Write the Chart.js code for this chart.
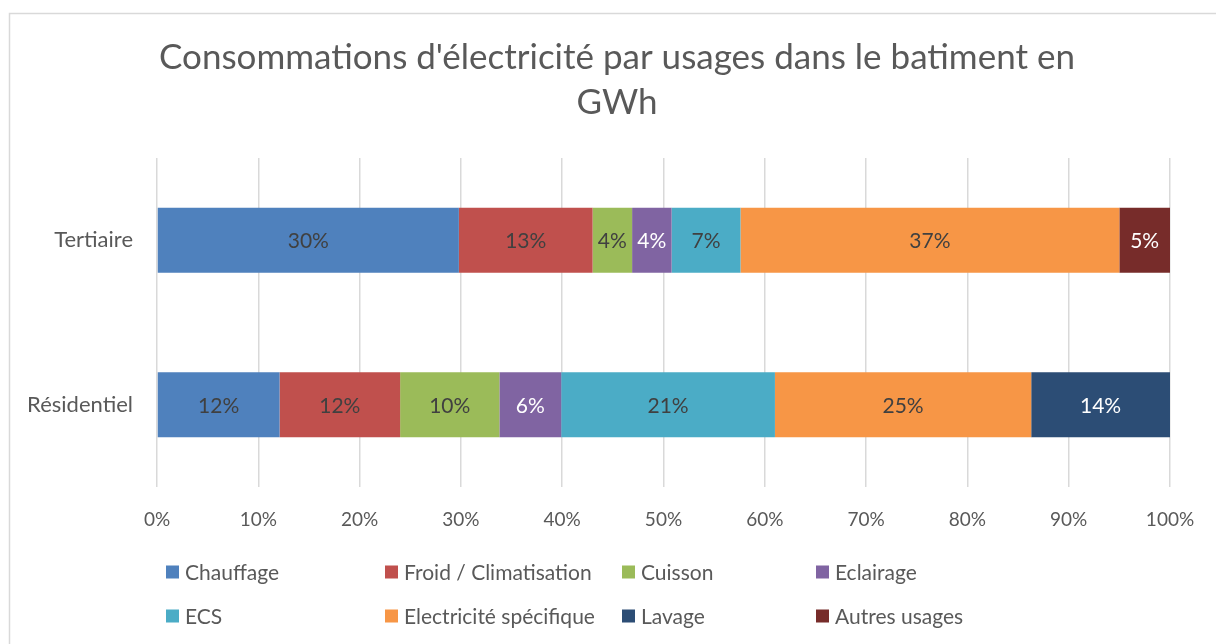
<!DOCTYPE html>
<html>
<head>
<meta charset="utf-8">
<script src="https://cdn.jsdelivr.net/npm/chart.js@4/dist/chart.umd.min.js"></script>
<style>
  html, body { margin: 0; padding: 0; background: #fff; }
  #wrap { width: 1216px; height: 644px; position: relative; }
</style>
</head>
<body>
<div id="wrap"><canvas id="myChart" width="1216" height="644"></canvas></div>
<script>
// categories (top to bottom) and shares in %
var categories = ['Tertiaire', 'Résidentiel'];
var usages = ['Chauffage', 'Froid / Climatisation', 'Cuisson', 'Eclairage',
              'ECS', 'Electricité spécifique', 'Lavage', 'Autres usages'];
var chauffage   = [29.8, 12.1];
var froid       = [13.2, 11.9];
var cuisson     = [3.9, 9.8];
var eclairage   = [3.9, 6.1];
var ecs         = [6.8, 21.1];
var electricite = [37.4, 25.3];
var lavage      = [0, 13.7];
var autres      = [5.0, 0];
var xTicks = [0, 10, 20, 30, 40, 50, 60, 70, 80, 90, 100];
var titleLines = ["Consommations d'électricité par usages dans le batiment en", 'GWh'];

var colors = ['#4F81BD', '#C0504D', '#9BBB59', '#8064A2', '#4BACC6', '#F79646', '#2C4D75', '#772C2A'];
var labelColors = ['#404040', '#404040', '#404040', '#ffffff', '#404040', '#404040', '#ffffff', '#ffffff'];
var series = [chauffage, froid, cuisson, eclairage, ecs, electricite, lavage, autres];

var FONT = 'Lato, "Open Sans", sans-serif';
var GREY = '#595959';

var data = {
  labels: categories,
  datasets: series.map(function (vals, i) {
    return {
      label: usages[i],
      data: vals,
      backgroundColor: colors[i],
      borderWidth: 0,
      barPercentage: 0.79,
      categoryPercentage: 0.5
    };
  })
};

/* frame round the chart area and the title, centred on the whole frame */
var framePlugin = {
  id: 'frame',
  beforeDraw: function (chart) {
    var c = chart.ctx;
    c.save();
    c.strokeStyle = '#d9d9d9';
    c.lineWidth = 1.5;
    c.strokeRect(9.5, 13.5, 1300, 700);
    c.font = '35px ' + FONT;
    c.fillStyle = GREY;
    c.textAlign = 'center';
    c.textBaseline = 'middle';
    titleLines.forEach(function (t, i) {
      c.fillText(t, 617, 58 + i * 45);
    });
    c.restore();
  }
};

/* percentage in the middle of each segment */
var valuePlugin = {
  id: 'values',
  afterDatasetsDraw: function (chart) {
    var c = chart.ctx;
    c.save();
    c.font = '21px ' + FONT;
    c.textAlign = 'center';
    c.textBaseline = 'middle';
    chart.data.datasets.forEach(function (ds, i) {
      chart.getDatasetMeta(i).data.forEach(function (bar, j) {
        var v = ds.data[j];
        if (!v) return;
        var x = (bar.x + bar.base) / 2;
        c.fillStyle = labelColors[i];
        c.fillText(Math.round(v) + '%', x, bar.y + 1);
      });
    });
    c.restore();
  }
};

/* legend as a 4 column grid under the axis */
var legendCols = [166, 385, 622, 816];
var legendRows = [572, 616];
var gridLegend = {
  id: 'gridLegend',
  afterDraw: function (chart) {
    var c = chart.ctx;
    c.save();
    c.font = '21px ' + FONT;
    c.textBaseline = 'middle';
    chart.data.datasets.forEach(function (ds, i) {
      var x = legendCols[i % 4];
      var y = legendRows[Math.floor(i / 4)];
      c.fillStyle = ds.backgroundColor;
      c.fillRect(x, y - 6.5, 13, 13);
      c.fillStyle = GREY;
      c.fillText(ds.label, x + 19, y + 1);
    });
    c.restore();
  }
};

const config = {
  type: 'bar',
  data: data,
  options: {
    indexAxis: 'y',
    responsive: false,
    animation: false,
    layout: {
      padding: { top: 158, bottom: 0, left: 0, right: 46 }
    },
    scales: {
      x: {
        stacked: true,
        min: 0,
        max: 100,
        afterFit: function (s) { s.height = 157; },
        afterBuildTicks: function (s) {
          s.ticks = xTicks.map(function (v) { return { value: v }; });
        },
        border: { display: false },
        grid: {
          color: '#d9d9d9',
          lineWidth: 1.5,
          drawTicks: false
        },
        ticks: {
          padding: 21,
          color: GREY,
          font: { size: 19, family: FONT },
          callback: function (v) { return v + '%'; }
        }
      },
      y: {
        stacked: true,
        afterFit: function (s) { s.width = 157; },
        border: { display: false },
        grid: { display: false, drawTicks: false },
        ticks: {
          padding: 24,
          color: GREY,
          font: { size: 22, family: FONT }
        }
      }
    },
    plugins: {
      legend: { display: false },
      tooltip: { enabled: false },
      title: { display: false }
    }
  },
  plugins: [framePlugin, valuePlugin, gridLegend]
};

var myChart = new Chart(document.getElementById('myChart'), config);
</script>
</body>
</html>
